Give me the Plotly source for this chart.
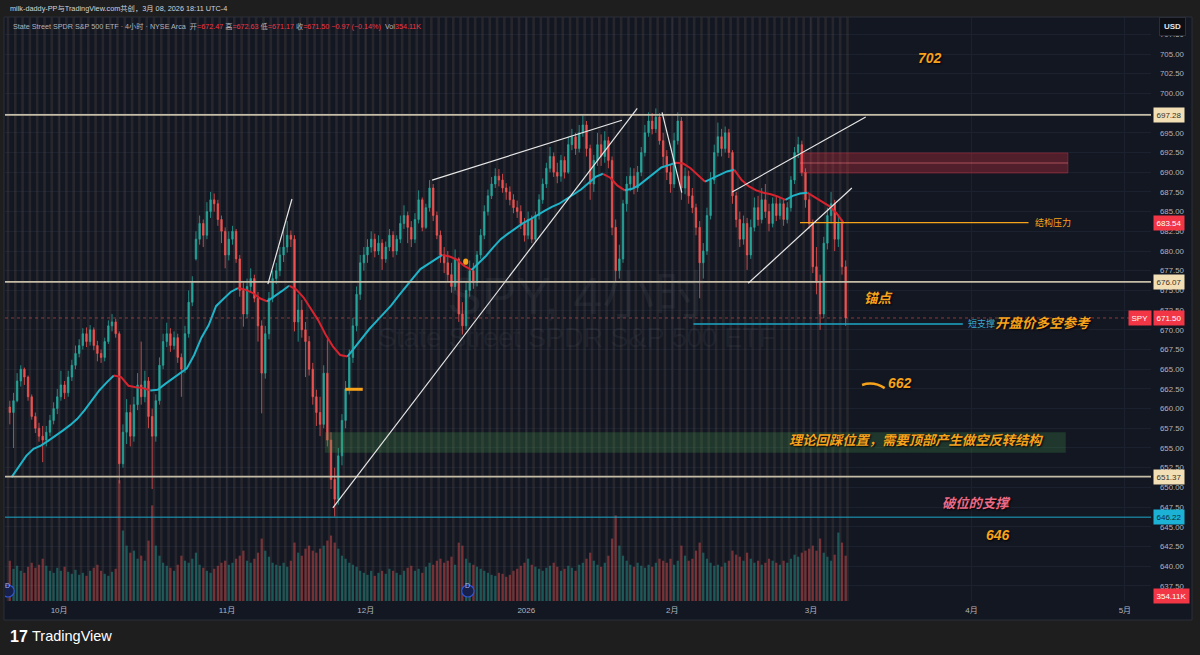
import plotly.graph_objects as go

# ---------------- data ----------------
month_days = [7, 30, 49, 71, 91, 110, 132, 153]
month_labels = ["10月", "11月", "12月", "2026", "2月", "3月", "4月", "5月"]
n_days = 115            # trading days shown, Sep 22 2025 .. Mar 6 2026 (2 bars per day)
dividend_days = [0, 63]

opens = [
    660.2, 659.5, 661.0, 663.5, 665.0, 664.0, 661.5, 659.0, 657.5, 656.5,
    656.0, 657.0, 658.5, 660.0, 661.5, 663.0, 662.0, 664.0, 665.5, 667.0,
    668.0, 669.5, 668.5, 670.0, 668.0, 667.0, 666.5, 668.5, 670.5, 671.0,
    669.5, 653.0, 657.0, 659.5, 656.5, 660.5, 663.0, 661.5, 663.5, 659.0,
    656.5, 661.0, 665.5, 668.5, 669.5, 668.0, 669.0, 666.5, 665.0, 669.5,
    673.5, 679.0, 681.5, 683.5, 682.0, 685.0, 686.5, 686.0, 684.0, 682.5,
    679.5, 681.5, 682.5, 679.0, 675.0, 672.0, 675.5, 676.5, 674.0, 670.5,
    664.5, 669.5, 674.0, 676.5, 677.5, 679.5, 680.5, 682.0, 681.5, 671.0,
    672.5, 670.0, 668.5, 665.0, 661.5, 659.5, 658.0, 664.5, 656.0, 651.0,
    648.5, 654.0, 658.5, 662.5, 666.5, 670.5, 674.5, 678.5, 679.5, 680.5,
    681.5, 680.0, 681.0, 679.0, 680.5, 682.0, 680.0, 681.5, 683.5, 684.5,
    683.0, 681.5, 684.0, 686.5, 683.0, 685.5, 688.0, 684.5, 682.0, 679.5,
    678.5, 677.0, 675.5, 679.0, 672.0, 670.5, 675.0, 677.5, 676.0, 679.5,
    682.0, 685.0, 687.0, 688.5, 689.5, 689.0, 688.0, 687.5, 686.5, 685.5,
    685.0, 683.5, 682.0, 684.0, 681.5, 684.5, 686.5, 688.5, 690.5, 692.0,
    690.0, 689.5, 691.5, 690.0, 693.5, 694.5, 693.0, 695.0, 696.0, 693.0,
    688.5, 691.5, 693.5, 692.0, 694.0, 691.5, 683.0, 677.5, 679.0, 686.0,
    688.5, 689.5, 688.0, 690.0, 692.5, 695.0, 696.5, 695.5, 697.0, 694.0,
    692.0, 690.0, 688.5, 694.0, 696.5, 688.0, 689.5, 687.0, 685.5, 683.0,
    678.5, 680.0, 684.5, 689.0, 692.5, 694.5, 693.0, 695.0, 692.5, 687.0,
    684.0, 681.5, 683.5, 679.5, 683.0, 685.5, 684.0, 686.5, 685.0, 683.5,
    686.0, 684.5, 686.0, 684.0, 685.5, 689.0, 692.5, 693.5, 690.0, 686.5,
    683.5, 678.0, 676.0, 672.0, 681.0, 684.5, 686.0, 681.5, 683.5, 678.0,
]
highs = [
    661.0, 662.0, 664.5, 665.5, 665.2, 664.2, 661.8, 659.5, 658.2, 657.8,
    657.8, 659.2, 660.8, 662.5, 664.8, 663.5, 664.8, 666.2, 668.0, 668.8,
    670.2, 670.3, 670.6, 670.3, 668.6, 667.5, 669.0, 671.2, 672.0, 671.4,
    669.8, 658.0, 661.2, 660.5, 661.5, 664.5, 668.5, 664.8, 664.0, 660.0,
    661.8, 666.5, 669.5, 670.9, 670.2, 669.8, 669.5, 667.0, 670.5, 675.0,
    676.8, 682.5, 684.5, 684.0, 686.2, 687.5, 687.3, 686.5, 684.5, 683.0,
    682.5, 683.2, 682.8, 679.5, 676.0, 676.5, 677.8, 677.0, 674.8, 671.2,
    670.5, 674.8, 677.5, 678.5, 680.5, 683.0, 683.8, 682.6, 682.0, 674.5,
    673.8, 671.0, 669.2, 665.8, 662.4, 661.5, 665.5, 668.8, 657.0, 652.5,
    655.0, 659.3, 663.5, 667.5, 671.5, 675.5, 679.5, 680.5, 681.5, 682.5,
    682.2, 682.0, 681.5, 681.2, 682.8, 682.5, 682.0, 684.5, 685.8, 685.0,
    683.8, 684.8, 687.7, 686.8, 686.0, 689.0, 688.5, 685.0, 682.6, 680.5,
    680.0, 678.5, 680.2, 679.2, 673.5, 676.0, 678.8, 678.5, 680.0, 682.8,
    685.8, 687.8, 689.4, 690.5, 690.4, 689.8, 688.6, 688.2, 687.2, 686.4,
    685.8, 684.2, 685.0, 684.5, 685.0, 687.2, 689.2, 691.2, 693.2, 692.5,
    691.2, 692.2, 692.0, 694.5, 695.5, 695.0, 696.0, 697.2, 696.5, 693.5,
    692.2, 695.0, 694.8, 695.2, 694.5, 692.0, 684.0, 680.8, 686.5, 689.5,
    690.6, 690.5, 690.8, 693.2, 696.0, 697.6, 697.5, 698.1, 697.5, 695.0,
    692.8, 691.0, 695.0, 697.6, 697.0, 690.6, 690.2, 688.0, 686.0, 683.8,
    681.0, 685.5, 690.0, 693.5, 696.3, 695.5, 695.8, 695.5, 692.8, 687.5,
    685.0, 684.5, 684.2, 684.0, 686.8, 687.0, 688.0, 688.5, 686.0, 686.8,
    687.0, 686.8, 686.5, 686.2, 689.5, 693.2, 694.5, 694.0, 690.5, 687.2,
    684.0, 680.5, 677.0, 681.8, 685.5, 687.5, 686.5, 684.5, 684.0, 678.8,
]
lows = [
    658.0, 655.0, 660.8, 662.8, 663.0, 661.0, 658.6, 656.9, 655.8, 653.2,
    655.2, 656.5, 658.0, 659.3, 661.0, 661.2, 661.5, 663.5, 665.0, 666.5,
    667.5, 667.8, 668.0, 667.4, 666.0, 665.8, 666.0, 668.2, 669.8, 669.0,
    650.5, 652.5, 655.5, 655.2, 655.8, 659.8, 660.5, 660.8, 657.5, 649.8,
    655.8, 660.5, 665.0, 667.8, 667.2, 667.5, 665.8, 661.5, 664.5, 669.0,
    673.0, 678.8, 680.8, 680.5, 681.5, 684.2, 685.0, 683.2, 681.0, 677.8,
    678.8, 680.8, 678.5, 674.2, 670.4, 671.5, 674.8, 673.5, 668.5, 659.4,
    663.8, 668.8, 673.5, 675.8, 676.8, 678.6, 679.8, 680.5, 669.8, 668.5,
    669.0, 664.0, 664.2, 660.5, 657.8, 656.5, 657.5, 655.2, 649.8, 646.3,
    647.8, 652.8, 657.5, 661.8, 665.8, 669.8, 673.8, 677.5, 678.5, 679.8,
    679.2, 679.5, 677.6, 678.5, 680.0, 679.2, 679.5, 681.0, 682.8, 681.0,
    680.5, 681.0, 683.5, 682.5, 682.8, 685.0, 683.8, 681.5, 678.5, 677.2,
    676.2, 674.7, 675.0, 671.0, 669.4, 670.0, 674.2, 675.2, 675.5, 679.0,
    681.5, 684.5, 686.6, 688.0, 688.2, 687.4, 686.5, 685.8, 684.8, 684.2,
    682.8, 681.2, 681.5, 681.0, 681.2, 684.0, 686.0, 688.0, 690.0, 689.4,
    688.6, 688.8, 689.2, 689.8, 692.8, 692.2, 692.5, 694.5, 692.0, 686.5,
    687.5, 690.8, 690.8, 691.2, 690.5, 682.0, 676.2, 676.5, 678.5, 685.0,
    687.6, 687.2, 687.5, 689.5, 692.0, 694.5, 694.8, 695.0, 693.5, 690.8,
    689.0, 687.4, 688.0, 693.5, 686.5, 687.2, 686.0, 684.8, 682.0, 674.0,
    676.5, 679.5, 684.0, 688.5, 692.0, 692.0, 692.5, 691.8, 686.0, 683.0,
    680.5, 680.8, 677.6, 679.0, 682.5, 683.2, 683.5, 684.2, 682.5, 683.0,
    683.8, 684.0, 683.2, 683.5, 685.0, 688.5, 691.8, 689.5, 685.5, 682.8,
    677.2, 674.5, 670.0, 671.5, 680.2, 683.5, 680.0, 680.5, 677.0, 670.5,
]
closes = [
    659.5, 661.0, 663.5, 665.0, 664.0, 661.5, 659.0, 657.5, 656.5, 656.0,
    657.0, 658.5, 660.0, 661.5, 663.0, 662.0, 664.0, 665.5, 667.0, 668.0,
    669.5, 668.5, 670.0, 668.0, 667.0, 666.5, 668.5, 670.5, 671.0, 669.5,
    653.0, 657.0, 659.5, 656.5, 660.5, 663.0, 661.5, 663.5, 659.0, 656.5,
    661.0, 665.5, 668.5, 669.5, 668.0, 669.0, 666.5, 665.0, 669.5, 673.5,
    676.0, 681.5, 683.5, 682.0, 685.0, 686.5, 686.0, 684.0, 682.5, 679.5,
    681.5, 682.5, 679.0, 675.0, 672.0, 675.5, 676.5, 674.0, 670.5, 664.5,
    669.5, 674.0, 676.5, 677.5, 679.5, 680.5, 682.0, 681.5, 671.0, 672.5,
    670.0, 668.5, 665.0, 661.5, 659.5, 658.0, 664.5, 656.0, 651.0, 648.5,
    654.0, 658.5, 662.5, 666.5, 670.5, 674.5, 678.5, 679.5, 680.5, 681.5,
    680.0, 681.0, 679.0, 680.5, 682.0, 680.0, 681.5, 683.5, 684.5, 683.0,
    681.5, 684.0, 686.5, 683.0, 685.5, 688.0, 684.5, 682.0, 679.5, 678.5,
    677.0, 675.5, 679.0, 672.0, 670.5, 675.0, 677.5, 676.0, 679.5, 682.0,
    685.0, 687.0, 688.5, 689.5, 689.0, 688.0, 687.5, 686.5, 685.5, 685.0,
    683.5, 682.0, 684.0, 681.5, 684.5, 686.5, 688.5, 690.5, 692.0, 690.0,
    689.5, 691.5, 690.0, 693.5, 694.5, 693.0, 695.0, 696.0, 693.0, 688.5,
    691.5, 693.5, 692.0, 694.0, 691.5, 683.0, 677.5, 679.0, 686.0, 688.5,
    689.5, 688.0, 690.0, 692.5, 695.0, 696.5, 695.5, 697.0, 694.0, 692.0,
    690.0, 688.5, 694.0, 696.5, 688.0, 689.5, 687.0, 685.5, 683.0, 678.5,
    680.0, 684.5, 689.0, 692.5, 694.5, 693.0, 695.0, 692.5, 687.0, 684.0,
    681.5, 683.5, 679.5, 683.0, 685.5, 684.0, 686.5, 685.0, 683.5, 686.0,
    684.5, 686.0, 684.0, 685.5, 689.0, 692.5, 693.5, 690.0, 686.5, 683.5,
    678.0, 676.0, 672.0, 681.0, 684.5, 686.0, 681.5, 683.5, 678.0, 671.5,
]
volumes = [
    40, 32, 35, 30, 28, 34, 38, 33, 36, 42,
    35, 30, 28, 33, 30, 34, 29, 27, 31, 26,
    28, 25, 30, 33, 36, 30, 27, 25, 29, 32,
    120, 70, 55, 48, 50, 42, 45, 40, 60, 95,
    55, 45, 38, 35, 33, 30, 36, 45, 40, 38,
    42, 48, 36, 33, 30, 28, 32, 35, 38, 40,
    36, 38, 42, 45, 50, 40, 38, 42, 48, 62,
    50, 44, 38, 36, 35, 38, 34, 40, 58, 48,
    45, 52, 55, 50, 48, 52, 55, 60, 65, 58,
    52, 45, 42, 38, 36, 34, 30, 28, 26, 30,
    25, 28, 30, 27, 32, 30, 28, 26, 30, 33,
    35, 30, 32, 28, 34, 38, 36, 40, 42, 38,
    40, 44, 36, 58, 55, 42, 38, 36, 34, 32,
    30, 28, 26, 25, 28, 27, 24, 26, 30, 32,
    35, 38, 42, 36, 34, 32, 30, 33, 35, 38,
    34, 30, 32, 35, 33, 30, 36, 38, 42, 48,
    40, 36, 34, 38, 45, 62, 85, 55, 45, 40,
    36, 34, 38, 35, 33, 36, 34, 38, 42, 40,
    38, 42, 36, 40, 55, 45, 40, 42, 50, 58,
    48, 42, 38, 35, 36, 34, 38, 40, 50, 46,
    44, 40, 48, 42, 38, 40, 36, 38, 42, 40,
    38, 36, 40, 38, 42, 46, 44, 48, 50, 52,
    55, 50, 62, 48, 44, 40, 46, 68, 58, 45,
]
ma_values = [
    651.3, 652.6, 654.0, 654.9, 655.3, 655.9, 656.5, 657.2, 657.9, 658.7,
    659.8, 661.0, 662.3, 663.3, 664.2, 664.0, 662.9, 662.7, 662.6, 662.3,
    662.4, 663.1, 663.8, 664.4, 665.1, 666.8, 669.0, 670.6, 673.0, 673.9,
    674.8, 675.3, 675.1, 674.7, 674.0, 673.6, 674.2, 674.9, 675.6, 675.1,
    674.1, 672.7, 671.2, 669.4, 667.9, 666.8, 666.6, 667.8, 669.0, 670.1,
    671.1, 672.1, 673.1, 674.3, 675.5, 676.6, 677.7, 678.3, 679.0, 679.5,
    679.3, 678.9, 678.1, 677.6, 678.5, 679.4, 680.5, 681.5, 682.2, 682.9,
    683.5, 684.0, 684.6, 685.1, 685.6, 686.0, 686.6, 687.2, 687.8, 688.6,
    689.4, 689.8, 689.3, 688.3, 687.7, 687.9, 688.4, 689.1, 689.9, 690.6,
    690.9, 691.2, 691.1, 690.5, 689.7, 688.8, 689.2, 689.6, 690.1, 690.3,
    689.0, 688.2, 687.7, 687.4, 687.2, 686.9, 686.5, 687.0, 687.3, 687.4,
    686.8, 686.3, 685.7, 684.8, 683.5,
]
level_lines = [697.28, 676.07, 651.37]
broken_support = 646.22
ma_last = 683.54
last_price = 671.50
last_volume = "354.11K"

# ---------------- styles ----------------
FONT = "Liberation Sans, Noto Sans CJK SC, sans-serif"
PANEL = "#131722"
OUTER = "#1e1e1e"
GRID = "#1c2130"
AXIS_TXT = "#b2b5be"
UP = "#26a69a"
DOWN = "#ef5350"
VOL_UP = "rgba(38,166,154,0.45)"
VOL_DN = "rgba(239,83,80,0.45)"
STRIPE = "rgba(80,70,64,0.32)"
MA_UP = "#1fb3c8"
MA_DN = "#d8232f"
ORANGE = "#f7a21b"
BEIGE_LINE = "#c6bda6"
BEIGE_BOX = "#f3dfb6"
CYAN = "#1ca7c6"
RED_BOX = "#f23645"
PINK = "#ec6a86"
WHITE_LINE = "#e6e6e6"
VOL_TOP = 580

PL, PR, PT, PB = 5, 1151, 17, 601          # plot area in pixels
X0, X1 = -0.41, 156.58                     # trading-day range shown
Y0, Y1 = 635.58, 709.70                    # price range shown


def xp(px):
    return (px - PL) / (PR - PL)


def yp(py):
    return (PB - py) / (PB - PT)


bar_x = [0.25 + 0.5 * i for i in range(len(closes))]
ma_x = [d + 0.5 for d in range(len(ma_values))]

fig = go.Figure()

# session stripes (background)
fig.add_trace(go.Bar(x=list(range(n_days + 1)), y=[VOL_TOP] * (n_days + 1), base=0,
                     width=0.36, marker=dict(color=STRIPE, line=dict(width=0)),
                     yaxis="y", hoverinfo="skip"))
# volume
vol_colors = [VOL_UP if c >= o else VOL_DN for o, c in zip(opens, closes)]
fig.add_trace(go.Bar(x=bar_x, y=volumes, width=0.3,
                     marker=dict(color=vol_colors, line=dict(width=0)),
                     yaxis="y", hoverinfo="skip"))
# candles
fig.add_trace(go.Candlestick(x=bar_x, open=opens, high=highs, low=lows, close=closes,
                             yaxis="y2", whiskerwidth=0, hoverinfo="skip",
                             increasing=dict(line=dict(color=UP, width=0.8), fillcolor=UP),
                             decreasing=dict(line=dict(color=DOWN, width=0.8), fillcolor=DOWN)))
# moving average coloured by slope
runs = []
for i in range(len(ma_values) - 1):
    up = ma_values[i + 1] >= ma_values[i]
    if runs and runs[-1][0] == up:
        runs[-1][1].append(i + 1)
    else:
        runs.append([up, [i, i + 1]])
for up, idx in runs:
    fig.add_trace(go.Scatter(x=[ma_x[j] for j in idx], y=[ma_values[j] for j in idx],
                             mode="lines", line=dict(color=MA_UP if up else MA_DN, width=2),
                             yaxis="y2", hoverinfo="skip"))

shapes = []
# outer frame
for (a, b, c, d) in [(0, 1200, 0, 17), (0, 1200, 620, 655), (0, 4, 0, 655), (1192, 1200, 0, 655)]:
    shapes.append(dict(type="rect", xref="paper", yref="paper", x0=xp(a), x1=xp(b),
                       y0=yp(d), y1=yp(c), fillcolor=OUTER, line=dict(width=0), layer="above"))
shapes.append(dict(type="rect", xref="paper", yref="paper", x0=xp(4), x1=xp(1192),
                   y0=yp(620), y1=yp(17), fillcolor="rgba(0,0,0,0)",
                   line=dict(color="#2a2e39", width=1), layer="above"))

# zones
shapes.append(dict(type="rect", xref="x", yref="y2", x0=108.5, x1=145.2, y0=689.9, y1=692.45,
                   fillcolor="rgba(242,54,69,0.28)", line=dict(color="rgba(242,54,69,0.35)", width=1),
                   layer="above"))
shapes.append(dict(type="line", xref="x", yref="y2", x0=108.5, x1=145.2, y0=691.17, y1=691.17,
                   line=dict(color="rgba(245,120,130,0.55)", width=1), layer="above"))
shapes.append(dict(type="rect", xref="x", yref="y2", x0=43.4, x1=144.9, y0=654.4, y1=657.0,
                   fillcolor="rgba(76,175,80,0.22)", line=dict(width=0), layer="above"))

# horizontal levels
for lv in level_lines:
    shapes.append(dict(type="line", xref="paper", yref="y2", x0=0, x1=1, y0=lv, y1=lv,
                       line=dict(color=BEIGE_LINE, width=1.8), layer="above"))
shapes.append(dict(type="line", xref="paper", yref="y2", x0=0, x1=1, y0=broken_support,
                   y1=broken_support, line=dict(color=CYAN, width=1), layer="above"))
shapes.append(dict(type="line", xref="paper", yref="y2", x0=0, x1=1, y0=last_price, y1=last_price,
                   line=dict(color="rgba(239,83,80,0.55)", width=1, dash="dot"), layer="above"))
# structure pressure / short support
shapes.append(dict(type="line", xref="x", yref="y2", x0=108.5, x1=139.8, y0=683.6, y1=683.6,
                   line=dict(color=ORANGE, width=1.2), layer="above"))
shapes.append(dict(type="line", xref="x", yref="y2", x0=93.9, x1=130.8, y0=670.75, y1=670.75,
                   line=dict(color=CYAN, width=1.5), layer="above"))
shapes.append(dict(type="line", xref="x", yref="y2", x0=46.2, x1=48.6, y0=662.45, y1=662.45,
                   line=dict(color=ORANGE, width=3), layer="above"))
shapes.append(dict(type="path", xref="x", yref="y2",
                   path="M 117.0,663.0 Q 118.6,663.5 120.1,662.6",
                   line=dict(color=ORANGE, width=2.5), layer="above"))
shapes.append(dict(type="circle", xref="x", yref="y2", x0=62.35, x1=63.05, y0=678.25, y1=679.05,
                   fillcolor=ORANGE, line=dict(width=0), layer="above"))
# trend lines
for (a, b, c, d) in [(35.6, 675.8, 38.9, 686.6), (58.1, 689.0, 84.1, 696.6),
                     (44.5, 647.4, 86.2, 698.1), (89.6, 697.6, 92.3, 687.4),
                     (99.2, 687.5, 117.5, 697.0), (101.4, 675.9, 115.6, 688.0)]:
    shapes.append(dict(type="line", xref="x", yref="y2", x0=a, y0=b, x1=c, y1=d,
                       line=dict(color=WHITE_LINE, width=1.2), layer="above"))
# dividend markers
for dd in dividend_days:
    shapes.append(dict(type="circle", xref="x", yref="paper", x0=dd - 0.85, x1=dd + 0.85,
                       y0=yp(597), y1=yp(585), fillcolor="#16204a",
                       line=dict(color="#2f55d4", width=1.2), layer="above"))

ann = []


def text(px, py, s, size, color, xanchor="center", bold=False, italic=False, shadow=None, **kw):
    f = dict(size=size, color=color, family=FONT)
    if bold:
        f["weight"] = "bold"
    if italic:
        f["style"] = "italic"
    if shadow:
        f["shadow"] = shadow
    ann.append(dict(x=xp(px), y=yp(py), xref="paper", yref="paper", text=s, showarrow=False,
                    xanchor=xanchor, yanchor="middle", font=f, **kw))


# watermark
text(576, 296, "SPY, 4小时", 52, "rgba(130,135,150,0.10)")
text(576, 338, "State Street SPDR S&P 500 ETF", 27, "rgba(130,135,150,0.10)")

# header & legend
text(8, 9, "milk-daddy-PP与TradingView.com共创，3月 08, 2026 18:11 UTC-4", 7.3, "#d1d4dc", xanchor="left")
R = "<span style='color:#f23645'>%s</span>"
legend = ("State Street SPDR S&P 500 ETF · 4小时 · NYSE Arca &nbsp;开" + R % "=672.47" +
          " 高" + R % "=672.63" + " 低" + R % "=671.17" + " 收" + R % "=671.50" +
          " " + R % "−0.97 (−0.14%)" + " &nbsp;Vol" + R % last_volume)
text(11, 26, legend, 7.2, AXIS_TXT, xanchor="left")

# USD box
ann.append(dict(x=xp(1172), y=yp(26), xref="paper", yref="paper", text="<b>USD</b>",
                showarrow=False, xanchor="center", yanchor="middle", bgcolor="#0c0e14",
                bordercolor="#2a2e39", borderwidth=1, borderpad=4,
                font=dict(size=8, color="#e0e3eb", family=FONT)))


def price_box(val, label, bg, fg):
    ann.append(dict(x=1, y=val, xref="paper", yref="y2", text=label, showarrow=False,
                    xanchor="left", yanchor="middle", xshift=2, bgcolor=bg, borderpad=2.5,
                    font=dict(size=8, color=fg, family=FONT)))


for lv in level_lines:
    price_box(lv, "%.2f" % lv, BEIGE_BOX, "#3a2f1e")
price_box(broken_support, "%.2f" % broken_support, "#1cb2d6", "#0d2a38")
price_box(ma_last, "%.2f" % ma_last, RED_BOX, "#ffffff")
price_box(last_price, "%.2f" % last_price, RED_BOX, "#ffffff")
ann.append(dict(x=1, y=last_price, xref="paper", yref="y2", text="SPY", showarrow=False,
                xanchor="right", yanchor="middle", xshift=1, bgcolor=RED_BOX, borderpad=2.5,
                font=dict(size=8, color="#ffffff", family=FONT)))
ann.append(dict(x=1, y=yp(596), xref="paper", yref="paper", text=last_volume, showarrow=False,
                xanchor="left", yanchor="middle", xshift=2, bgcolor=RED_BOX, borderpad=2.5,
                font=dict(size=8, color="#ffffff", family=FONT)))

# dividend letters
for dd in dividend_days:
    ann.append(dict(x=dd, y=yp(591), xref="x", yref="paper", text="D", showarrow=False,
                    font=dict(size=7, color="#9fb2ff", family=FONT)))

# chart notes
SH = "1px 1px 2px #000"
text(930, 58, "702", 14, ORANGE, bold=True, italic=True, shadow=SH)
text(878, 298, "锚点", 13.5, ORANGE, bold=True, italic=True, shadow=SH)
text(1043, 323, "开盘价多空参考", 13.5, ORANGE, bold=True, italic=True, shadow=SH)
text(900, 383, "662", 14, ORANGE, bold=True, italic=True, shadow=SH)
text(916, 440, "理论回踩位置，需要顶部产生做空反转结构", 13.3, ORANGE, bold=True, italic=True, shadow=SH)
text(976, 503, "破位的支撑", 13.3, PINK, bold=True, italic=True, shadow=SH)
text(998, 535, "646", 14, ORANGE, bold=True, italic=True, shadow=SH)
text(1033, 222, "结构压力", 9, ORANGE, xanchor="left")
text(966, 323, "短支撑", 9, "#3aa9cf", xanchor="left")

# TradingView footer
text(8, 636, "<b>17</b>", 16, "#ffffff", xanchor="left")
text(30, 636, "TradingView", 14.5, "#ffffff", xanchor="left")

fig.update_layout(
    width=1200, height=655,
    margin=dict(l=PL, r=1200 - PR, t=PT, b=655 - PB, autoexpand=False),
    paper_bgcolor=PANEL, plot_bgcolor=PANEL,
    showlegend=False, hovermode=False, dragmode=False,
    barmode="overlay", boxgap=0.45,
    font=dict(family=FONT, color=AXIS_TXT),
    xaxis=dict(range=[X0, X1], tickmode="array", tickvals=month_days, ticktext=month_labels,
               showgrid=True, gridcolor=GRID, gridwidth=1, zeroline=False, showline=False,
               ticks="", tickfont=dict(size=8, color=AXIS_TXT, family=FONT),
               rangeslider=dict(visible=False), fixedrange=True, automargin=False,
               ticklabelstandoff=3),
    yaxis=dict(range=[0, VOL_TOP], visible=False, fixedrange=True, showgrid=False),
    yaxis2=dict(range=[Y0, Y1], overlaying="y", side="right", tick0=637.5, dtick=2.5,
                tickformat=".2f", showgrid=True, gridcolor=GRID, gridwidth=1, zeroline=False,
                showline=False, ticks="", tickfont=dict(size=7.8, color=AXIS_TXT, family=FONT),
                fixedrange=True, automargin=False, ticklabelstandoff=8),
    shapes=shapes, annotations=ann,
)

fig.write_html("out.html")
